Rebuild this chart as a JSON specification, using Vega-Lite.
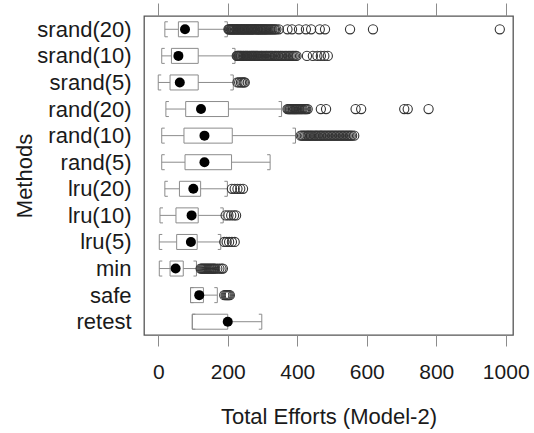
{
  "$schema": "https://vega.github.io/schema/vega-lite/v6.json",
  "autosize": {"type": "none"},
  "padding": {"left": 144, "top": 16, "right": 21, "bottom": 98},
  "width": 369,
  "height": 319,
  "background": "white",
  "config": {
    "font": "Liberation Sans",
    "view": {"stroke": "#555555", "strokeWidth": 1.3},
    "axis": {"grid": false, "domain": false, "labelColor": "#1a1a1a", "titleColor": "#1a1a1a", "titleFontWeight": "normal", "tickColor": "#8c8c8c"}
  },
  "datasets": {
    "boxes": [
      {"method": "srand(20)", "lo": 19, "q1": 58, "med": 77, "q3": 115, "hi": 199},
      {"method": "srand(10)", "lo": 10, "q1": 38, "med": 58, "q3": 115, "hi": 221},
      {"method": "srand(5)", "lo": 0, "q1": 34, "med": 62, "q3": 115, "hi": 216},
      {"method": "rand(20)", "lo": 22, "q1": 79, "med": 123, "q3": 202, "hi": 355},
      {"method": "rand(10)", "lo": 10, "q1": 74, "med": 133, "q3": 213, "hi": 395},
      {"method": "rand(5)", "lo": 10, "q1": 77, "med": 133, "q3": 211, "hi": 322},
      {"method": "lru(20)", "lo": 19, "q1": 61, "med": 101, "q3": 122, "hi": 199},
      {"method": "lru(10)", "lo": 5, "q1": 51, "med": 96, "q3": 115, "hi": 187},
      {"method": "lru(5)", "lo": 3, "q1": 53, "med": 94, "q3": 112, "hi": 180},
      {"method": "min", "lo": 3, "q1": 34, "med": 50, "q3": 72, "hi": 110},
      {"method": "safe", "lo": 93, "q1": 93, "med": 118, "q3": 130, "hi": 170},
      {"method": "retest", "lo": 98, "q1": 98, "med": 200, "q3": 200, "hi": 298}
    ],
    "outliers": [
      {"method": "srand(20)", "v": 202}, {"method": "srand(20)", "v": 206}, {"method": "srand(20)", "v": 209}, {"method": "srand(20)", "v": 213},
      {"method": "srand(20)", "v": 217}, {"method": "srand(20)", "v": 221}, {"method": "srand(20)", "v": 224}, {"method": "srand(20)", "v": 228},
      {"method": "srand(20)", "v": 232}, {"method": "srand(20)", "v": 237}, {"method": "srand(20)", "v": 241}, {"method": "srand(20)", "v": 245},
      {"method": "srand(20)", "v": 249}, {"method": "srand(20)", "v": 254}, {"method": "srand(20)", "v": 258}, {"method": "srand(20)", "v": 262},
      {"method": "srand(20)", "v": 267}, {"method": "srand(20)", "v": 271}, {"method": "srand(20)", "v": 276}, {"method": "srand(20)", "v": 280},
      {"method": "srand(20)", "v": 285}, {"method": "srand(20)", "v": 289}, {"method": "srand(20)", "v": 294}, {"method": "srand(20)", "v": 299},
      {"method": "srand(20)", "v": 304}, {"method": "srand(20)", "v": 309}, {"method": "srand(20)", "v": 314}, {"method": "srand(20)", "v": 320},
      {"method": "srand(20)", "v": 326}, {"method": "srand(20)", "v": 333}, {"method": "srand(20)", "v": 340}, {"method": "srand(20)", "v": 347},
      {"method": "srand(20)", "v": 204}, {"method": "srand(20)", "v": 211}, {"method": "srand(20)", "v": 215}, {"method": "srand(20)", "v": 219},
      {"method": "srand(20)", "v": 226}, {"method": "srand(20)", "v": 230}, {"method": "srand(20)", "v": 235}, {"method": "srand(20)", "v": 239},
      {"method": "srand(20)", "v": 243}, {"method": "srand(20)", "v": 247}, {"method": "srand(20)", "v": 251}, {"method": "srand(20)", "v": 256},
      {"method": "srand(20)", "v": 260}, {"method": "srand(20)", "v": 265}, {"method": "srand(20)", "v": 269}, {"method": "srand(20)", "v": 273},
      {"method": "srand(20)", "v": 278}, {"method": "srand(20)", "v": 283}, {"method": "srand(20)", "v": 287}, {"method": "srand(20)", "v": 292},
      {"method": "srand(20)", "v": 296}, {"method": "srand(20)", "v": 301}, {"method": "srand(20)", "v": 306}, {"method": "srand(20)", "v": 311},
      {"method": "srand(20)", "v": 317}, {"method": "srand(20)", "v": 323}, {"method": "srand(20)", "v": 329}, {"method": "srand(20)", "v": 336},
      {"method": "srand(20)", "v": 372}, {"method": "srand(20)", "v": 385}, {"method": "srand(20)", "v": 405}, {"method": "srand(20)", "v": 425},
      {"method": "srand(20)", "v": 440}, {"method": "srand(20)", "v": 465}, {"method": "srand(20)", "v": 480}, {"method": "srand(20)", "v": 552},
      {"method": "srand(20)", "v": 618}, {"method": "srand(20)", "v": 983},
      {"method": "srand(10)", "v": 226}, {"method": "srand(10)", "v": 230}, {"method": "srand(10)", "v": 234}, {"method": "srand(10)", "v": 238},
      {"method": "srand(10)", "v": 243}, {"method": "srand(10)", "v": 247}, {"method": "srand(10)", "v": 252}, {"method": "srand(10)", "v": 256},
      {"method": "srand(10)", "v": 261}, {"method": "srand(10)", "v": 266}, {"method": "srand(10)", "v": 270}, {"method": "srand(10)", "v": 275},
      {"method": "srand(10)", "v": 280}, {"method": "srand(10)", "v": 285}, {"method": "srand(10)", "v": 290}, {"method": "srand(10)", "v": 296},
      {"method": "srand(10)", "v": 301}, {"method": "srand(10)", "v": 307}, {"method": "srand(10)", "v": 312}, {"method": "srand(10)", "v": 318},
      {"method": "srand(10)", "v": 324}, {"method": "srand(10)", "v": 330}, {"method": "srand(10)", "v": 337}, {"method": "srand(10)", "v": 344},
      {"method": "srand(10)", "v": 351}, {"method": "srand(10)", "v": 358}, {"method": "srand(10)", "v": 366}, {"method": "srand(10)", "v": 374},
      {"method": "srand(10)", "v": 382}, {"method": "srand(10)", "v": 390}, {"method": "srand(10)", "v": 398},
      {"method": "srand(10)", "v": 228}, {"method": "srand(10)", "v": 232}, {"method": "srand(10)", "v": 236}, {"method": "srand(10)", "v": 240},
      {"method": "srand(10)", "v": 245}, {"method": "srand(10)", "v": 250}, {"method": "srand(10)", "v": 254}, {"method": "srand(10)", "v": 258},
      {"method": "srand(10)", "v": 263}, {"method": "srand(10)", "v": 268}, {"method": "srand(10)", "v": 272}, {"method": "srand(10)", "v": 277},
      {"method": "srand(10)", "v": 282}, {"method": "srand(10)", "v": 287}, {"method": "srand(10)", "v": 293}, {"method": "srand(10)", "v": 298},
      {"method": "srand(10)", "v": 304}, {"method": "srand(10)", "v": 310}, {"method": "srand(10)", "v": 315}, {"method": "srand(10)", "v": 321},
      {"method": "srand(10)", "v": 327}, {"method": "srand(10)", "v": 334}, {"method": "srand(10)", "v": 340}, {"method": "srand(10)", "v": 347},
      {"method": "srand(10)", "v": 354}, {"method": "srand(10)", "v": 362}, {"method": "srand(10)", "v": 370}, {"method": "srand(10)", "v": 378},
      {"method": "srand(10)", "v": 386}, {"method": "srand(10)", "v": 394},
      {"method": "srand(10)", "v": 428}, {"method": "srand(10)", "v": 445}, {"method": "srand(10)", "v": 458}, {"method": "srand(10)", "v": 468},
      {"method": "srand(10)", "v": 478}, {"method": "srand(10)", "v": 488},
      {"method": "srand(5)", "v": 228}, {"method": "srand(5)", "v": 233}, {"method": "srand(5)", "v": 238}, {"method": "srand(5)", "v": 242},
      {"method": "srand(5)", "v": 246}, {"method": "srand(5)", "v": 249},
      {"method": "rand(20)", "v": 372}, {"method": "rand(20)", "v": 378}, {"method": "rand(20)", "v": 383}, {"method": "rand(20)", "v": 388},
      {"method": "rand(20)", "v": 393}, {"method": "rand(20)", "v": 398}, {"method": "rand(20)", "v": 404}, {"method": "rand(20)", "v": 410},
      {"method": "rand(20)", "v": 416}, {"method": "rand(20)", "v": 423}, {"method": "rand(20)", "v": 430},
      {"method": "rand(20)", "v": 375}, {"method": "rand(20)", "v": 380}, {"method": "rand(20)", "v": 386}, {"method": "rand(20)", "v": 391},
      {"method": "rand(20)", "v": 396}, {"method": "rand(20)", "v": 401}, {"method": "rand(20)", "v": 407}, {"method": "rand(20)", "v": 413},
      {"method": "rand(20)", "v": 420}, {"method": "rand(20)", "v": 426},
      {"method": "rand(20)", "v": 468}, {"method": "rand(20)", "v": 483}, {"method": "rand(20)", "v": 568}, {"method": "rand(20)", "v": 584},
      {"method": "rand(20)", "v": 708}, {"method": "rand(20)", "v": 718}, {"method": "rand(20)", "v": 778},
      {"method": "rand(10)", "v": 410}, {"method": "rand(10)", "v": 418}, {"method": "rand(10)", "v": 426}, {"method": "rand(10)", "v": 433},
      {"method": "rand(10)", "v": 440}, {"method": "rand(10)", "v": 448}, {"method": "rand(10)", "v": 455}, {"method": "rand(10)", "v": 463},
      {"method": "rand(10)", "v": 470}, {"method": "rand(10)", "v": 478}, {"method": "rand(10)", "v": 486}, {"method": "rand(10)", "v": 494},
      {"method": "rand(10)", "v": 502}, {"method": "rand(10)", "v": 510}, {"method": "rand(10)", "v": 518}, {"method": "rand(10)", "v": 526},
      {"method": "rand(10)", "v": 534}, {"method": "rand(10)", "v": 542}, {"method": "rand(10)", "v": 550}, {"method": "rand(10)", "v": 558},
      {"method": "rand(10)", "v": 564},
      {"method": "rand(10)", "v": 414}, {"method": "rand(10)", "v": 422}, {"method": "rand(10)", "v": 430}, {"method": "rand(10)", "v": 437},
      {"method": "rand(10)", "v": 444}, {"method": "rand(10)", "v": 452}, {"method": "rand(10)", "v": 459}, {"method": "rand(10)", "v": 467},
      {"method": "rand(10)", "v": 474}, {"method": "rand(10)", "v": 482}, {"method": "rand(10)", "v": 490}, {"method": "rand(10)", "v": 498},
      {"method": "rand(10)", "v": 506}, {"method": "rand(10)", "v": 514}, {"method": "rand(10)", "v": 522}, {"method": "rand(10)", "v": 530},
      {"method": "rand(10)", "v": 538}, {"method": "rand(10)", "v": 546}, {"method": "rand(10)", "v": 554},
      {"method": "lru(20)", "v": 212}, {"method": "lru(20)", "v": 220}, {"method": "lru(20)", "v": 228}, {"method": "lru(20)", "v": 236}, {"method": "lru(20)", "v": 244},
      {"method": "lru(10)", "v": 194}, {"method": "lru(10)", "v": 202}, {"method": "lru(10)", "v": 210}, {"method": "lru(10)", "v": 218}, {"method": "lru(10)", "v": 224},
      {"method": "lru(5)", "v": 190}, {"method": "lru(5)", "v": 197}, {"method": "lru(5)", "v": 204}, {"method": "lru(5)", "v": 212}, {"method": "lru(5)", "v": 220},
      {"method": "min", "v": 122}, {"method": "min", "v": 128}, {"method": "min", "v": 134}, {"method": "min", "v": 140}, {"method": "min", "v": 146},
      {"method": "min", "v": 152}, {"method": "min", "v": 158}, {"method": "min", "v": 164}, {"method": "min", "v": 170}, {"method": "min", "v": 176},
      {"method": "min", "v": 182}, {"method": "min", "v": 186},
      {"method": "min", "v": 125}, {"method": "min", "v": 131}, {"method": "min", "v": 137}, {"method": "min", "v": 143}, {"method": "min", "v": 149},
      {"method": "min", "v": 155}, {"method": "min", "v": 161},
      {"method": "safe", "v": 190}, {"method": "safe", "v": 194}, {"method": "safe", "v": 197}, {"method": "safe", "v": 200}, {"method": "safe", "v": 203}, {"method": "safe", "v": 206}
    ]
  },
  "resolve": {"axis": {"x": "independent", "y": "independent"}},
  "layer": [
    {
      "data": {"name": "boxes"},
      "mark": {"type": "rule", "color": "#8c8c8c", "strokeWidth": 1},
      "encoding": {
        "y": {"field": "method", "type": "nominal", "sort": ["srand(20)", "srand(10)", "srand(5)", "rand(20)", "rand(10)", "rand(5)", "lru(20)", "lru(10)", "lru(5)", "min", "safe", "retest"], "scale": {"type": "point", "padding": 0.5},
          "axis": {"orient": "left", "ticks": false, "labelFontSize": 22, "labelPadding": 13, "title": "Methods", "titleFontSize": 22, "titlePadding": 0}},
        "x": {"field": "lo", "type": "quantitative", "scale": {"domain": [-41, 1021], "nice": false, "zero": false},
          "axis": {"orient": "bottom", "values": [0, 200, 400, 600, 800, 1000], "format": "d", "tickSize": 11, "labelFontSize": 21, "labelPadding": 15, "title": "Total Efforts (Model-2)", "titleFontSize": 22, "titlePadding": 24}},
        "x2": {"field": "q1"}
      }
    },
    {
      "data": {"name": "boxes"},
      "mark": {"type": "rule", "color": "#8c8c8c", "strokeWidth": 1},
      "encoding": {
        "y": {"field": "method", "type": "nominal", "sort": ["srand(20)", "srand(10)", "srand(5)", "rand(20)", "rand(10)", "rand(5)", "lru(20)", "lru(10)", "lru(5)", "min", "safe", "retest"], "axis": null},
        "x": {"field": "q3", "type": "quantitative",
          "axis": {"orient": "top", "values": [0, 200, 400, 600, 800, 1000], "tickSize": 13, "labels": false, "title": null}},
        "x2": {"field": "hi"}
      }
    },
    {
      "data": {"name": "boxes"},
      "mark": {"type": "bar", "size": 15, "fill": "white", "fillOpacity": 0, "stroke": "#8c8c8c", "strokeWidth": 1},
      "encoding": {
        "y": {"field": "method", "type": "nominal", "sort": ["srand(20)", "srand(10)", "srand(5)", "rand(20)", "rand(10)", "rand(5)", "lru(20)", "lru(10)", "lru(5)", "min", "safe", "retest"], "axis": null},
        "x": {"field": "q1", "type": "quantitative", "axis": null},
        "x2": {"field": "q3"}
      }
    },
    {
      "data": {"name": "boxes"},
      "mark": {"type": "point", "shape": "M0.4,-1L0,-1L0,1L0.4,1", "filled": false, "size": 225, "color": "#8c8c8c", "strokeWidth": 1, "opacity": 1},
      "encoding": {
        "y": {"field": "method", "type": "nominal", "sort": ["srand(20)", "srand(10)", "srand(5)", "rand(20)", "rand(10)", "rand(5)", "lru(20)", "lru(10)", "lru(5)", "min", "safe", "retest"], "axis": null},
        "x": {"field": "lo", "type": "quantitative", "axis": null}
      }
    },
    {
      "data": {"name": "boxes"},
      "mark": {"type": "point", "shape": "M-0.4,-1L0,-1L0,1L-0.4,1", "filled": false, "size": 225, "color": "#8c8c8c", "strokeWidth": 1, "opacity": 1},
      "encoding": {
        "y": {"field": "method", "type": "nominal", "sort": ["srand(20)", "srand(10)", "srand(5)", "rand(20)", "rand(10)", "rand(5)", "lru(20)", "lru(10)", "lru(5)", "min", "safe", "retest"], "axis": null},
        "x": {"field": "hi", "type": "quantitative", "axis": null}
      }
    },
    {
      "data": {"name": "outliers"},
      "mark": {"type": "point", "shape": "circle", "filled": false, "size": 85, "color": "#333333", "strokeWidth": 1.1, "opacity": 1},
      "encoding": {
        "y": {"field": "method", "type": "nominal", "sort": ["srand(20)", "srand(10)", "srand(5)", "rand(20)", "rand(10)", "rand(5)", "lru(20)", "lru(10)", "lru(5)", "min", "safe", "retest"], "axis": null},
        "x": {"field": "v", "type": "quantitative", "axis": null}
      }
    },
    {
      "data": {"name": "boxes"},
      "mark": {"type": "point", "shape": "circle", "filled": true, "size": 100, "color": "black", "opacity": 1},
      "encoding": {
        "y": {"field": "method", "type": "nominal", "sort": ["srand(20)", "srand(10)", "srand(5)", "rand(20)", "rand(10)", "rand(5)", "lru(20)", "lru(10)", "lru(5)", "min", "safe", "retest"], "axis": null},
        "x": {"field": "med", "type": "quantitative", "axis": null}
      }
    }
  ]
}
